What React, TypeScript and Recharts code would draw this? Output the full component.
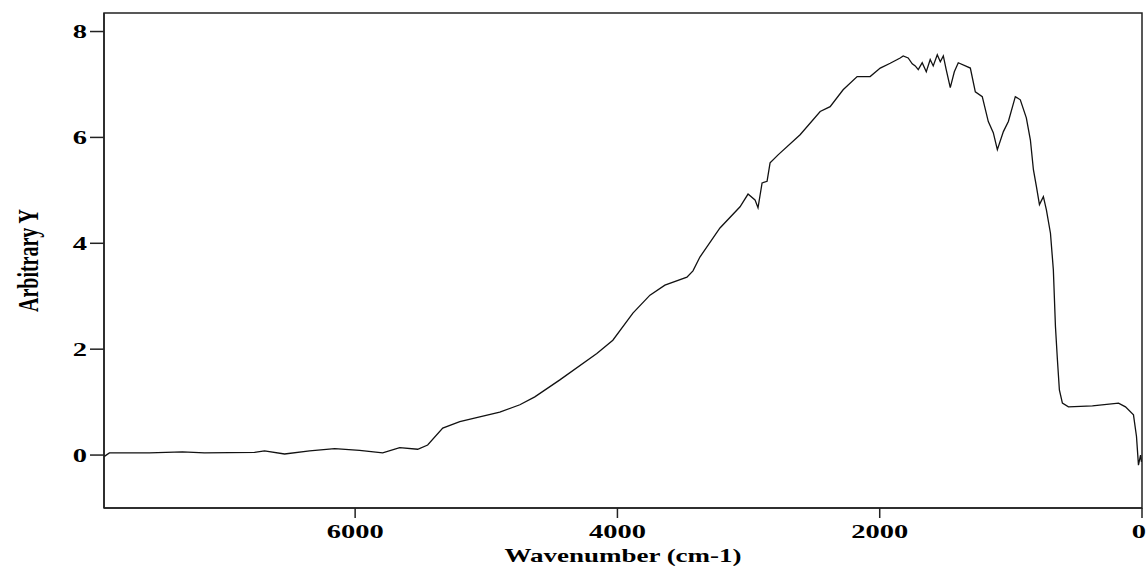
import { LineChart, Line, XAxis, YAxis, ReferenceArea } from 'recharts';

// spectrum, high wavenumber -> low
const wavenumbers = [
  7915, 7874, 7569, 7317, 7149, 6767, 6691, 6538, 6347, 6156, 5966, 5790, 5660, 5523, 5447, 5332,
  5202, 5050, 4897, 4744, 4630, 4439, 4157, 4035, 3882, 3752, 3638, 3470, 3424, 3371, 3218, 3065,
  3004, 2951, 2928, 2897, 2859, 2836, 2775, 2607, 2454, 2378, 2279, 2172, 2073, 1996, 1920, 1844,
  1821, 1783, 1752, 1729, 1706, 1676, 1645, 1615, 1592, 1561, 1538, 1515, 1493, 1462, 1431, 1401,
  1309, 1271, 1218, 1172, 1134, 1103, 1057, 1019, 966, 928, 882, 851, 828, 805, 782, 752, 729, 698,
  676, 660, 645, 630, 607, 561, 378, 179, 126, 65, 42, 27, 11, 4,
];
const absorbance = [
  -0.03, 0.04, 0.04, 0.06, 0.04, 0.05, 0.08, 0.02, 0.08, 0.12, 0.09, 0.04, 0.14, 0.11, 0.19, 0.51,
  0.63, 0.72, 0.81, 0.95, 1.1, 1.42, 1.92, 2.17, 2.68, 3.02, 3.21, 3.36, 3.48, 3.74, 4.29, 4.69,
  4.93, 4.82, 4.67, 5.14, 5.17, 5.52, 5.67, 6.05, 6.49, 6.58, 6.9, 7.15, 7.15, 7.31, 7.4, 7.5,
  7.54, 7.5, 7.39, 7.35, 7.28, 7.41, 7.24, 7.47, 7.35, 7.56, 7.43, 7.54, 7.28, 6.94, 7.24, 7.41,
  7.31, 6.86, 6.77, 6.3, 6.09, 5.77, 6.11, 6.3, 6.77, 6.71, 6.37, 5.95, 5.39, 5.07, 4.73, 4.88, 4.63, 4.19,
  3.5, 2.43, 1.8, 1.23, 0.98, 0.91, 0.93, 0.98, 0.91, 0.76, 0.35, -0.19, 0.0, -0.13,
];
const xTicks = [0, 2000, 4000, 6000];
const yTicks = [0, 2, 4, 6, 8];

const data = wavenumbers.map((wn, i) => ({ wn, y: absorbance[i] }));

const font = '"Liberation Serif", "Times New Roman", serif';
const ink = '#222';

const XTick = (props: any) => {
  const { x, y, payload } = props;
  // the 0 label sits on the right edge of the page, keep it inside
  const edge = payload.value === 0;
  return (
    <text transform={`translate(${edge ? x + 4 : x},${y}) scale(1.5,1)`} textAnchor={edge ? 'end' : 'middle'}
      dy={17} fontFamily={font} fontWeight="bold" fontSize={19} fill="#000">
      {payload.value}
    </text>
  );
};

const YTick = (props: any) => {
  const { x, y, payload } = props;
  return (
    <text transform={`translate(${x},${y}) scale(1.5,1)`} textAnchor="end" dy="0.35em"
      fontFamily={font} fontWeight="bold" fontSize={19} fill="#000">
      {payload.value}
    </text>
  );
};

const xTitle = (props: any) => {
  const { x, y, width, height } = props.viewBox;
  return (
    <text transform={`translate(${x + width / 2},${y + height - 8}) scale(1.5,1)`} textAnchor="middle"
      fontFamily={font} fontWeight="bold" fontSize={18} fill="#000">
      Wavenumber (cm-1)
    </text>
  );
};

const yTitle = (props: any) => {
  const { y, height } = props.viewBox;
  return (
    <text transform={`translate(27,${y + height / 2}) scale(1.5,1) rotate(-90)`} textAnchor="middle"
      dy="0.35em" fontFamily={font} fontWeight="bold" fontSize={20} fill="#000">
      Arbitrary Y
    </text>
  );
};

export default function App() {
  return (
    <div>
      <style>{'body{margin:0;overflow:hidden}'}</style>
      <LineChart width={1146} height={570} data={data} margin={{ top: 13, right: 4, bottom: 0, left: 0 }}>
        <XAxis
          type="number"
          dataKey="wn"
          domain={[0, 7915]}
          reversed
          allowDataOverflow
          ticks={xTicks}
          height={62}
          tickSize={10}
          tickMargin={3}
          stroke={ink}
          strokeWidth={1.5}
          tick={<XTick />}
          label={xTitle}
        />
        <YAxis
          type="number"
          domain={[-1, 8.35]}
          allowDataOverflow
          ticks={yTicks}
          width={104}
          tickSize={14}
          tickMargin={3}
          stroke={ink}
          strokeWidth={1.5}
          tick={<YTick />}
          label={yTitle}
        />
        <ReferenceArea x1={7915} x2={0} y1={-1} y2={8.35} fill="none" stroke={ink} strokeWidth={1.5} />
        <Line
          type="linear"
          dataKey="y"
          stroke="#111"
          strokeWidth={1.3}
          dot={false}
          isAnimationActive={false}
        />
      </LineChart>
    </div>
  );
}
